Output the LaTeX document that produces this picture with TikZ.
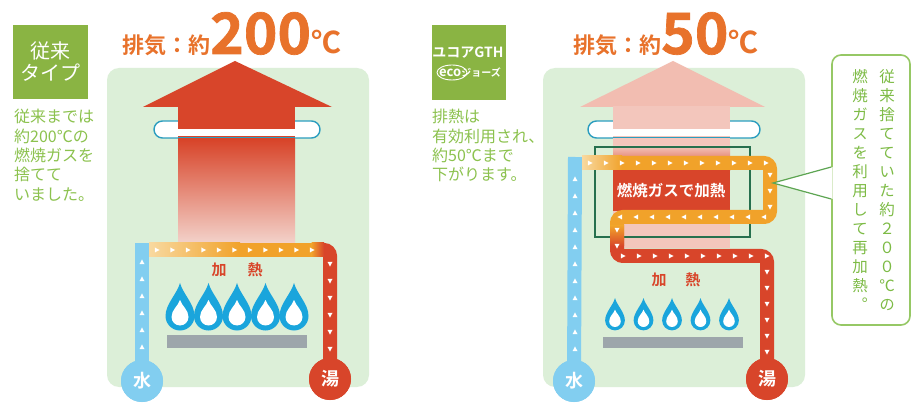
\documentclass[tikz,border=0pt]{standalone}
\usepackage{fontspec}
\newfontfamily\cjk{Noto Sans CJK JP}
\newfontfamily\cjkbold[UprightFont=* Bold]{Noto Sans CJK JP}
\newfontfamily\cjkheavy[UprightFont=* Bold, FakeBold=1.2]{Noto Sans CJK JP}
\newfontfamily\cjkvert[RawFeature=+vert]{Noto Sans CJK JP}
\usetikzlibrary{decorations.markings}

\definecolor{panel}{HTML}{DCEFD8}
\definecolor{labelgreen}{HTML}{8AB443}
\definecolor{textgreen}{HTML}{8CC24E}
\definecolor{titleorange}{HTML}{E8722B}
\definecolor{hotred}{HTML}{D8452A}
\definecolor{shaftlight}{HTML}{F3D2CA}
\definecolor{palearrow}{HTML}{F2BDB1}
\definecolor{paleshaft}{HTML}{F3C6BC}
\definecolor{pipeblue}{HTML}{82CEF0}
\definecolor{pipeorange}{HTML}{F1A22A}
\definecolor{pipepale}{HTML}{F8D9A0}
\definecolor{flameblue}{HTML}{1AA5DC}
\definecolor{bargrey}{HTML}{9DA6AB}
\definecolor{pillline}{HTML}{2B9DBF}
\definecolor{frame}{HTML}{26704E}
\definecolor{calloutline}{HTML}{96C865}
\definecolor{pointer}{HTML}{5DA552}
\definecolor{callouttext}{HTML}{7DBB45}

\tikzset{
  pipe/.style={line width=14pt, rounded corners=6pt},
  flow/.style={postaction={decorate,decoration={markings,
     mark=between positions 0 and 1 step #1 with {\fill[white] (2.6pt,0pt) -- (-2.2pt,2.5pt) -- (-2.2pt,-2.5pt) -- cycle;}}}},
  flow/.default=16pt,
  badge/.style={circle, inner sep=0pt, minimum size=42pt, text=white, font=\cjkbold\fontsize{18}{18}\selectfont},
  typebox/.style={fill=labelgreen, inner sep=0pt, text=white, align=center},
  desc/.style={anchor=north west, inner sep=0pt, align=left, text=textgreen, font=\cjk\fontsize{16}{19.4}\selectfont},
  heatlabel/.style={inner sep=0pt, text=hotred, font=\cjkbold\fontsize{15}{15}\selectfont},
  title/.style={anchor=base west, inner sep=0pt, text=titleorange},
  vcol/.style={inner sep=0pt, align=center, text=callouttext, font=\cjkvert\fontsize{15.5}{19.05}\selectfont},
  flame/.pic={
    \fill[flameblue] (0,-33) .. controls (3,-22) and (14.5,-12) .. (14.5,0)
      arc[start angle=0, end angle=180, radius=14.5]
      .. controls (-14.5,-12) and (-3,-22) .. (0,-33) -- cycle;
    \fill[white] (0,-16) .. controls (2,-10) and (8.5,-6) .. (8.5,1)
      arc[start angle=0, end angle=180, radius=8.5]
      .. controls (-8.5,-6) and (-2,-10) .. (0,-16) -- cycle;
  },
}

\begin{document}
\begin{tikzpicture}[x=1pt, y=-1pt]
\useasboundingbox (0,0) rectangle (916,406);
\fill[white] (0,0) rectangle (916,406);

% ---------- conventional heater (left) ----------
\fill[panel, rounded corners=12pt] (107,68) rectangle (369,387);

\node[typebox, minimum width=75pt, minimum height=74pt,
      font=\cjk\fontsize{20}{22}\selectfont] (oldtype) at (50.5,62) {従来\\タイプ};
\node[desc] (olddesc) at (14,109) {従来までは\\約200℃の\\燃焼ガスを\\捨てて\\いました。};

\node[title] (oldtitle) at (122,54)
  {{\cjkbold\fontsize{22}{22}\selectfont 排気：約}{\cjkheavy\fontsize{57}{57}\selectfont 200}{\cjkbold\fontsize{30}{30}\selectfont ℃}};

% exhaust ring and hot exhaust arrow
\draw[pillline, line width=1.4pt, fill=white, rounded corners=8.5pt] (154,121) rectangle (320,138);
\fill[hotred] (143,107) -- (235,61) -- (332,107) -- cycle;
\fill[hotred] (178,106) rectangle (295,141);
\shade[top color=hotred, bottom color=shaftlight] (178,140) rectangle (295,243);
\fill[white] (178,129) rectangle (295,136.5);
\draw[pillline, line width=1.2pt] (178,137.6) -- (295,137.6);

% burner
\node[heatlabel] (oldheat) at (237,270) {加\hspace{21pt}熱};
\foreach \fx in {180,208.5,237,265.5,294}
  \pic at (\fx,316) {flame};
\fill[bargrey] (167,335) rectangle (307,348);

% water circuit
\node[badge, fill=pipeblue] (water1) at (142,381) {水};
\node[badge, fill=hotred] (hot1) at (330,379) {湯};
\draw[pipe, pipeblue] (water1.center) -- (142,243);
\draw[pipe, hotred] (318,250) -| (hot1.center);
\fill[left color=pipepale, right color=pipeorange] (149,243) rectangle (240,257);
\fill[pipeorange] (239.5,243) rectangle (312,257);
\fill[left color=pipeorange, right color=hotred] (311.5,243) rectangle (324,257);
\path[flow=17pt] (142,364) -- (142,250);
\path[flow=15.5pt] (157,250) -- (323,250);
\path[flow=17pt] (330,264) -- (330,362);
\node[badge, fill=pipeblue] at (water1) {水};
\node[badge, fill=hotred] at (hot1) {湯};

% ---------- condensing heater (right) ----------
\fill[panel, rounded corners=12pt] (543,68) rectangle (805,387);

\node[typebox, minimum width=74pt, minimum height=75pt] (newtype) at (469,62.5) {};
\node[inner sep=0pt, text=white, font=\cjkbold\fontsize{14}{14}\selectfont] (model) at (468,53) {ユコアGTH};
\node[inner sep=0pt, text=white] (ecologo) at (470,72.5)
  {{\fontsize{13}{13}\selectfont\cjkbold eco}{\cjkbold\fontsize{10}{10}\selectfont ジョーズ}};
\draw[white, line width=0.9pt] (452,72.5) ellipse [x radius=15, y radius=7.5];
\node[desc] (newdesc) at (432,109) {排熱は\\有効利用され、\\約50℃まで\\下がります。};

\node[title] (newtitle) at (573,54)
  {{\cjkbold\fontsize{22}{22}\selectfont 排気：約}{\cjkheavy\fontsize{57}{57}\selectfont 50}{\cjkbold\fontsize{30}{30}\selectfont ℃}};

% exhaust ring and cooled exhaust arrow
\draw[pillline, line width=1.4pt, fill=white, rounded corners=8.5pt] (588,121) rectangle (760,138);
\fill[palearrow] (580,107) -- (673,61) -- (765,107) -- cycle;
\fill[paleshaft] (613,106) rectangle (730,248);
\fill[white] (613,129) rectangle (730,136.5);
\draw[pillline, line width=1.2pt] (613,137.6) -- (730,137.6);
\shade[top color=paleshaft, bottom color=hotred] (613,146) rectangle (730,171);
\fill[hotred] (613,170.5) rectangle (730,211);
\draw[frame, line width=1.6pt] (595,147) rectangle (750,237);

% burner
\node[heatlabel] (newheat) at (676,280) {加\hspace{19pt}熱};
\foreach \fx in {615,643.5,672,700.5,729}
  \pic[scale=0.68] at (\fx,320.5) {flame};
\fill[bargrey] (603,337) rectangle (743,348);

% water circuit with secondary heat exchanger
\node[badge, fill=pipeblue] (water2) at (574,381) {水};
\node[badge, fill=hotred] (hot2) at (767,379) {湯};
\draw[pipe, pipeblue] (water2.center) -- (575,157);
\draw[pipe, hotred] (617,238) |- (767,256) -- (hot2.center);
\draw[pipe, pipeorange] (582,163) -| (770,217) -| (617,240);
\fill[top color=pipeorange, bottom color=hotred] (610,226) rectangle (624,246);
\fill[left color=pipepale, right color=pipeorange] (582,156) rectangle (622,170);
\path[flow=17pt] (575,366) -- (575,168);
\path[flow=16pt] (590,163) -- (770,163) -- (770,217) -- (617,217) -- (617,256) -- (767,256) -- (767,362);
\node[badge, fill=pipeblue] at (water2) {水};
\node[badge, fill=hotred] at (hot2) {湯};

\node[inner sep=0pt, text=white, font=\cjkbold\fontsize{15.5}{15.5}\selectfont] (gasheat) at (671,190.5) {燃焼ガスで加熱};

% callout
\node[draw=calloutline, line width=1.6pt, fill=white, rounded corners=9pt,
      minimum width=78pt, minimum height=270pt, inner sep=0pt] (callout) at (871,190) {};
\coordinate (tip) at (773,183);
\fill[white] ([yshift=23pt,xshift=1.5pt]callout.west) -- (tip) -- ([yshift=-9pt,xshift=1.5pt]callout.west) -- cycle;
\draw[pointer, line width=1.2pt] ([yshift=23pt]callout.west) -- (tip) -- ([yshift=-9pt]callout.west);
\node[vcol] (colright) at (887,190) {従\\来\\捨\\て\\て\\い\\た\\約\\２\\０\\０\\℃\\の};
\node[vcol] (colleft) at (860,190) {燃\\焼\\ガ\\ス\\を\\利\\用\\し\\て\\再\\加\\熱\\。};
\end{tikzpicture}
\end{document}
